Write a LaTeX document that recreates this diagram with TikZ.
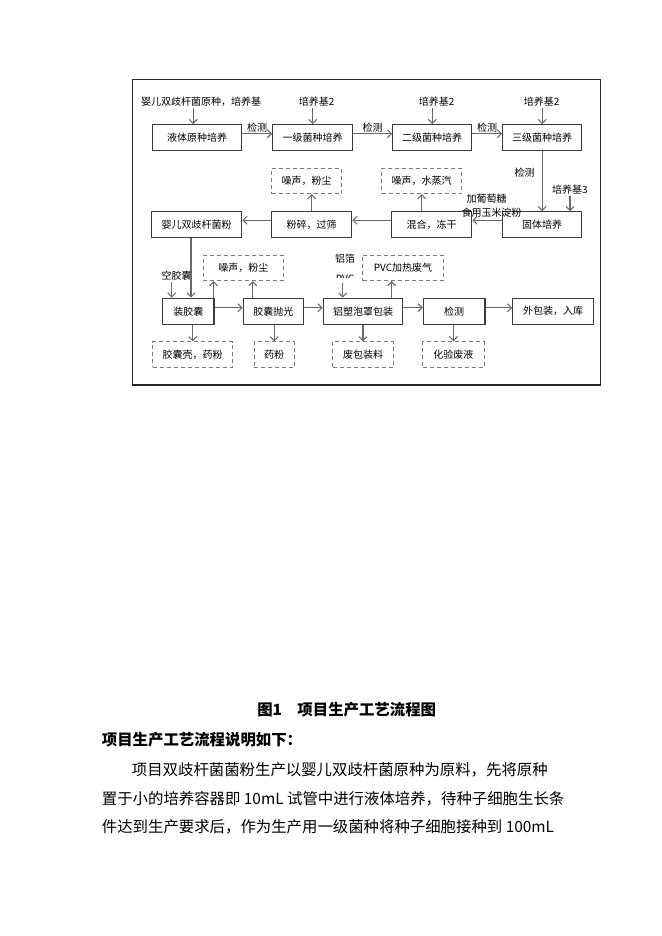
\documentclass[tikz,border=0pt]{standalone}
\usepackage{fontspec}
\newfontfamily\cjk{Noto Sans CJK SC}
\usetikzlibrary{positioning, arrows.meta}
\definecolor{boxgray}{HTML}{3C3C3C}
\definecolor{linegray}{HTML}{6A6A6A}
\definecolor{dashgray}{HTML}{7A7A7A}

\begin{document}
\begin{tikzpicture}[x=1bp, y=-1bp, >={Straight Barb[length=4bp,width=8bp]},
  box/.style = {draw=boxgray, line width=1.2bp, minimum height=26bp, inner sep=0pt, font=\cjk\fontsize{10bp}{12bp}\selectfont},
  waste/.style = {draw=dashgray, line width=1bp, dash pattern=on 4bp off 3bp, minimum height=25.5bp, inner sep=0pt, font=\cjk\fontsize{10bp}{12bp}\selectfont},
  lbl/.style = {inner sep=1bp, font=\cjk\fontsize{10bp}{12bp}\selectfont},
  flow/.style = {->, draw=linegray, line width=1.1bp},
  body/.style = {inner sep=0pt, anchor=west, font=\cjk\fontsize{15.4bp}{18bp}\selectfont}]
  \useasboundingbox (0,0) rectangle (662,936);
  \draw[line width=1.3bp, black!85] (132.5,79.5) rectangle (600.7,385);

  \node[box, minimum width=89bp] (yeti) at (197.2,137.7) {液体原种培养};
  \node[box, minimum width=80bp] (yiji) at (312.7,137.7) {一级菌种培养};
  \node[box, minimum width=79bp] (erji) at (432.2,137.7) {二级菌种培养};
  \node[box, minimum width=79bp] (sanji) at (542.2,137.7) {三级菌种培养};

  \node[box, minimum width=90bp] (fen) at (196.7,224.7) {婴儿双歧杆菌粉};
  \node[box, minimum width=80bp] (fensui) at (311.7,224.7) {粉碎，过筛};
  \node[box, minimum width=80bp] (hunhe) at (431.7,224.7) {混合，冻干};
  \node[box, minimum width=79bp] (guti) at (542.2,224.7) {固体培养};
  \node[waste, minimum width=70bp] (noise1) at (306.7,180.8) {噪声，粉尘};
  \node[waste, minimum width=80bp] (noise2) at (421.7,180.8) {噪声，水蒸汽};

  \node[box, minimum width=51.3bp] (zhuang) at (188.3,311.2) {装胶囊};
  \node[box, minimum width=60bp] (paoguang) at (273.3,311.2) {胶囊抛光};
  \node[box, minimum width=79.4bp] (lvsu) at (363,311.2) {铝塑泡罩包装};
  \node[box, minimum width=61.7bp] (jiance) at (454.2,311.2) {检测};
  \node[box, minimum width=80.6bp] (waibao) at (553,311.2) {外包装，入库};
  \node[waste, minimum width=80bp] (noise3) at (243.3,267.8) {噪声，粉尘};
  \node[waste, minimum width=80.6bp] (pvcgas) at (403,267.8) {PVC加热废气};
  \node[waste, minimum width=80bp] (ke) at (192.7,354.6) {胶囊壳，药粉};
  \node[waste, minimum width=40.3bp] (yaofen) at (274.2,354.6) {药粉};
  \node[waste, minimum width=60.6bp] (feibao) at (363,354.6) {废包装料};
  \node[waste, minimum width=61.3bp] (feiye) at (453.4,354.6) {化验废液};

  \node[lbl] (src) at (201,101.7) {婴儿双歧杆菌原种，培养基};
  \node[lbl] (pyj1) at (316.7,101.7) {培养基2};
  \node[lbl] (pyj2) at (436.7,101.7) {培养基2};
  \node[lbl] (pyj3) at (541.7,101.7) {培养基2};
  \node[lbl] (pyj4) at (570,190) {培养基3};
  \node[lbl] (glu) at (486.7,199) {加葡萄糖};
  \node[lbl] (starch) at (491.7,213) {食用玉米淀粉};
  \node[lbl] (kong) at (176.7,276) {空胶囊};
  \node[lbl] (foil) at (345,258.3) {铝箔};
  \begin{scope}
    \clip (320,265) rectangle (370,277.6);
    \node[lbl] (pvc) at (345,278.5) {PVC};
  \end{scope}

  \draw[flow] ([xshift=-4bp]yeti.north |- src.south) -- ([xshift=-4bp]yeti.north);
  \draw[flow] (yiji.north |- pyj1.south) -- (yiji.north);
  \draw[flow] (erji.north |- pyj2.south) -- (erji.north);
  \draw[flow] (sanji.north |- pyj3.south) -- (sanji.north);
  \draw[flow] ([yshift=4bp]yeti.east) -- node[lbl, above] {检测} ([yshift=4bp]yiji.west);
  \draw[flow] ([yshift=4bp]yiji.east) -- node[lbl, above] {检测} ([yshift=4bp]erji.west);
  \draw[flow] ([yshift=4bp]erji.east) -- node[lbl, above] {检测} ([yshift=4bp]sanji.west);
  \draw[flow] (sanji) -- node[lbl, left=6bp, pos=0.35] {检测} (guti);
  \draw[flow] (pyj4.south) -- (pyj4.south |- guti.north);

  \draw[flow] ([yshift=4.5bp]guti.west) -- ([yshift=4.5bp]hunhe.east);
  \draw[flow] ([yshift=4.5bp]hunhe.west) -- ([yshift=4.5bp]fensui.east);
  \draw[flow] ([yshift=4.5bp]fensui.west) -- ([yshift=4.5bp]fen.east);
  \draw[flow] (fensui.north) -- (fensui.north |- noise1.south);
  \draw[flow] (noise2.south |- hunhe.north) -- (noise2.south);
  \draw[flow] ([xshift=-5.7bp]fen.south) -- ([xshift=-5.7bp]fen.south |- zhuang.north);

  \draw[flow] ([xshift=-16.6bp]zhuang.north |- kong.south) -- ([xshift=-16.6bp]zhuang.north);
  \draw[flow] ([xshift=-1bp]zhuang.north east) -- ([xshift=-1bp]zhuang.north east |- noise3.south);
  \draw[flow] ([xshift=10bp]paoguang.north west) -- ([xshift=10bp]paoguang.north west |- noise3.south);
  \draw[flow] ([yshift=3.5bp]zhuang.east) -- ([yshift=3.5bp]paoguang.west);
  \draw[flow] ([yshift=3.5bp]paoguang.east) -- ([yshift=3.5bp]lvsu.west);
  \draw[flow] ([yshift=3.5bp]lvsu.east) -- ([yshift=3.5bp]jiance.west);
  \draw[flow] ([yshift=3.5bp]jiance.east) -- ([yshift=3.5bp]waibao.west);
  \draw[flow] ([xshift=20bp]lvsu.north west |- pvc.south) -- ([xshift=20bp]lvsu.north west);
  \draw[flow] ([xshift=-11.7bp]lvsu.north east) -- ([xshift=-11.7bp]lvsu.north east |- pvcgas.south);
  \draw[flow] (ke.north |- zhuang.south) -- (ke.north);
  \draw[flow] (yaofen.north |- paoguang.south) -- (yaofen.north);
  \draw[flow] (lvsu.south) -- (feibao.north);
  \draw[flow] (feiye.north |- jiance.south) -- (feiye.north);

  \node[body, anchor=center] (caption) at (346.7,710) {\bfseries 图1\hspace{1em}项目生产工艺流程图};
  \node[body] (head) at (101.7,740) {\bfseries 项目生产工艺流程说明如下：};
  \node[body] (line1) at (131.7,770) {项目双歧杆菌菌粉生产以婴儿双歧杆菌原种为原料，先将原种};
  \node[body] (line2) at (101.7,798.3) {置于小的培养容器即 10mL 试管中进行液体培养，待种子细胞生长条};
  \node[body] (line3) at (101.7,826.7) {件达到生产要求后，作为生产用一级菌种将种子细胞接种到 100mL};
\end{tikzpicture}
\end{document}
